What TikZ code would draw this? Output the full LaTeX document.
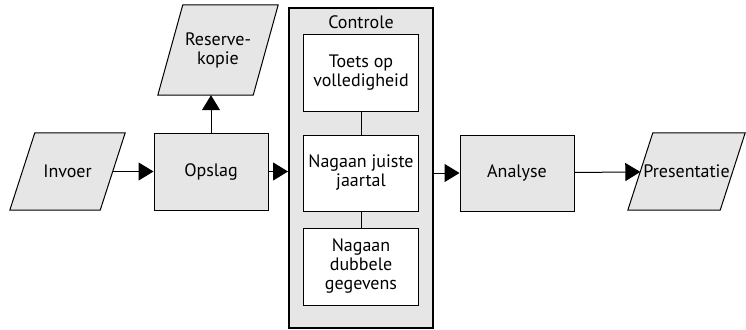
\documentclass[tikz,border=0pt]{standalone}
\usepackage{fontspec}
\setmainfont{PT Sans}
\usetikzlibrary{arrows.meta,calc}
\definecolor{boxgray}{HTML}{E6E6E6}
\begin{document}
\begin{tikzpicture}[x=1pt,y=-1pt,
  every node/.style={font=\fontsize{18}{19}\selectfont, align=center, inner sep=0pt},
  procbox/.style={draw, line width=1pt, fill=boxgray, minimum width=114pt, minimum height=77pt},
  stepbox/.style={draw, line width=1pt, fill=white, minimum width=115pt, minimum height=76pt},
  iobox/.style={minimum width=#1, minimum height=77pt},
  ioshape/.style={draw, line width=1pt, fill=boxgray},
  flow/.style={line width=1pt, -{Triangle[length=15pt,width=18pt]}},
  link/.style={line width=0.6pt}
]
\useasboundingbox (0,0) rectangle (746,329);

% input/output nodes: the node box spans the middle of the slanted sides,
% the parallelogram outline is drawn around it with a slant of 25pt
\node[iobox=90pt] (invoer) at (67.5,171.5) {};
\node[iobox=92pt] (presentatie) at (686.5,171.5) {};
\node[iobox=95pt, minimum height=90pt] (reserve) at (218,50) {};
\foreach \n in {invoer,presentatie,reserve}{
  \draw[ioshape] ($(\n.south west)+(-12.5,0)$) -- ($(\n.south east)+(-12.5,0)$)
    -- ($(\n.north east)+(12.5,0)$) -- ($(\n.north west)+(12.5,0)$) -- cycle;
}
\node at (invoer) {Invoer};
\node at (presentatie) {Presentatie};
\node at (reserve) {Reserve-\\kopie};

\node[procbox] (opslag) at (211,171.5) {Opslag};

% verification group
\node[draw, line width=2pt, fill=boxgray, minimum width=144pt, minimum height=320pt] (controle) at (361,168) {};
\node (controletitel) at (361,22) {Controle};
\node[stepbox] (toets) at (361,73) {Toets op\\volledigheid};
\node[stepbox] (jaartal) at (361,173) {Nagaan juiste\\jaartal};
\node[stepbox, minimum height=77pt] (dubbel) at (361,266.5) {Nagaan\\dubbele\\gegevens};

% analysis
\node[procbox, minimum height=76pt] (analyse) at (517,173) {Analyse};

% connectors
\draw[flow] (invoer) -- (opslag);
\draw[flow] (opslag.north) -- (reserve.south -| opslag.north);
\draw[flow] (opslag.east) -- (controle.west |- opslag.east);
\draw[flow] (controle.east |- analyse.west) -- (analyse.west);
\draw[flow] (analyse) -- (presentatie);
\draw[link] (toets) -- (jaartal);
\draw[link] (jaartal) -- (dubbel);
\end{tikzpicture}
\end{document}
